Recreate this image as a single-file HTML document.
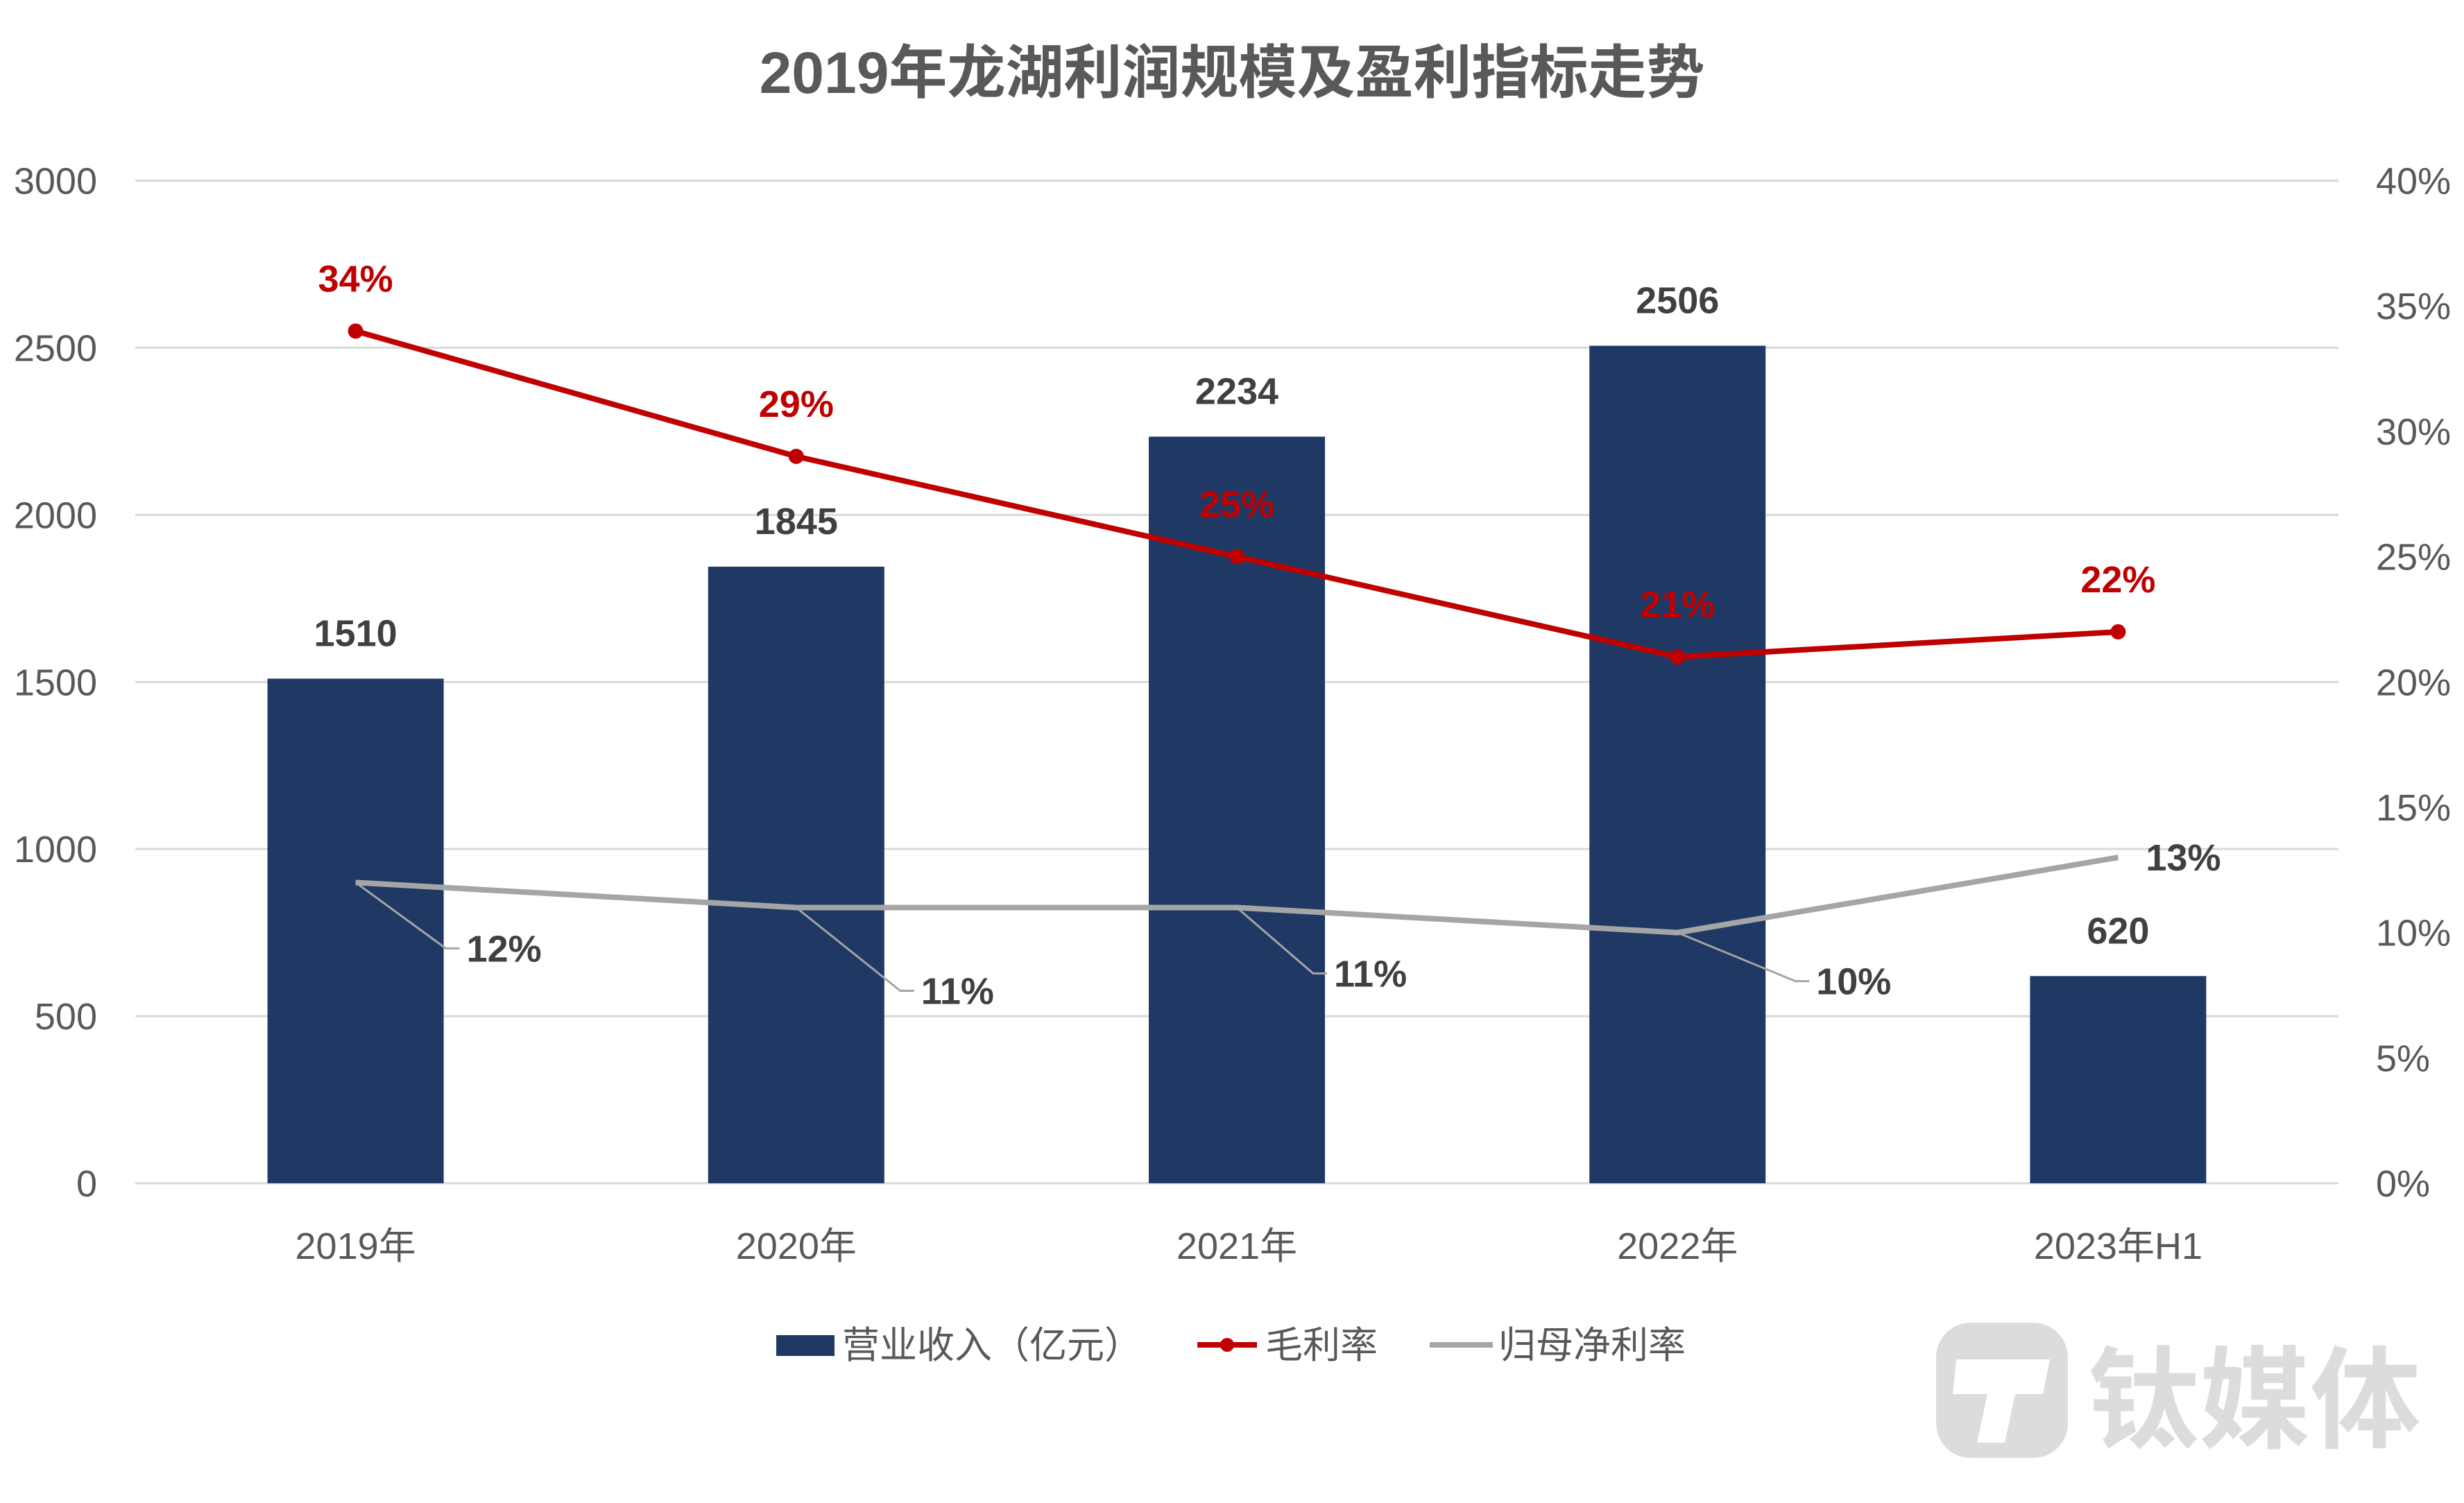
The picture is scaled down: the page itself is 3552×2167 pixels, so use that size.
<!DOCTYPE html>
<html><head><meta charset="utf-8">
<style>
html,body{margin:0;padding:0;background:#fff;}
svg{display:block;font-family:"Liberation Sans","Noto Sans CJK SC",sans-serif;}
</style></head>
<body>
<svg id="chart" width="3552" height="2167" viewBox="0 0 3552 2167" xmlns="http://www.w3.org/2000/svg">
<text x="1776" y="134" text-anchor="middle" font-size="84" font-weight="bold" fill="#595959">2019年龙湖利润规模及盈利指标走势</text>
<g id="grid"></g><g id="bars"></g><g id="lines"></g><g id="labels"></g>
<g>
<rect x="1119" y="1925" width="84" height="30" fill="#203864"/>
<text x="1214" y="1958" font-size="54" fill="#595959">营业收入（亿元）</text>
<line x1="1726" y1="1939" x2="1812" y2="1939" stroke="#C00000" stroke-width="8"/>
<circle cx="1769" cy="1939" r="10" fill="#C00000"/>
<text x="1824" y="1958" font-size="54" fill="#595959">毛利率</text>
<line x1="2061" y1="1939" x2="2152" y2="1939" stroke="#A5A5A5" stroke-width="8"/>
<text x="2160" y="1958" font-size="54" fill="#595959">归母净利率</text>
</g>
<g opacity="0.9">
<rect x="2791" y="1907" width="190" height="195" rx="50" fill="#D9D9D9"/>
<path d="M2820 1960 L2955 1960 L2945 2010 L2905 2010 L2890 2080 L2850 2080 L2865 2010 L2815 2010 Z" fill="#fff"/>
<text x="3010" y="2075" font-size="160" font-weight="bold" fill="#D9D9D9">钛媒体</text>
</g>
</svg>
<script>
const categories=["2019年","2020年","2021年","2022年","2023年H1"];
const revenue=[1510,1845,2234,2506,620];
const grossMargin=[34,29,25,21,22];
const netMargin=[12,11,11,10,13];
const leftTicks=[0,500,1000,1500,2000,2500,3000];
const rightTicks=[0,5,10,15,20,25,30,35,40];
const NS="http://www.w3.org/2000/svg";
const L=195,R=3371,T=260.5,B=1706;
const bw=(R-L)/categories.length;
const xc=i=>L+bw*(i+0.5);
const yL=v=>B-(v/3000)*(B-T);
const yR=v=>B-(v/40)*(B-T);
function mk(tag,attrs,parent,txt){const e=document.createElementNS(NS,tag);for(const k in attrs)e.setAttribute(k,attrs[k]);if(txt!==undefined)e.textContent=txt;parent.appendChild(e);return e;}
const grid=document.getElementById('grid'),bars=document.getElementById('bars'),lines=document.getElementById('lines'),labels=document.getElementById('labels');
leftTicks.forEach(v=>{
 const g=mk('line',{x1:L,x2:R,y1:yL(v),y2:yL(v),stroke:'#D9D9D9','stroke-width':3},grid);
 
 
 const t=mk('text',{x:140,y:yL(v)+19,'text-anchor':'end','font-size':54,fill:'#595959'},grid,v);
 
 
});
rightTicks.forEach(v=>{
 const t=mk('text',{x:3425,y:yR(v)+19,'font-size':54,fill:'#595959'},grid,v+'%');
 
 
});
categories.forEach((c,i)=>{
 const t=mk('text',{x:xc(i),y:1815,'text-anchor':'middle','font-size':54,fill:'#595959'},grid,c);
 
 
});
revenue.forEach((v,i)=>{
 const r=mk('rect',{x:xc(i)-127,y:yL(v),width:254,height:B-yL(v),fill:'#203864'},bars);
 
 
 const t=mk('text',{x:xc(i),y:yL(v)-47,'text-anchor':'middle','font-size':54,'font-weight':'bold',fill:'#404040'},labels,v);
 
 
});
const np=mk('polyline',{points:netMargin.map((v,i)=>xc(i)+','+yR(v)).join(' '),fill:'none',stroke:'#A5A5A5','stroke-width':8,'stroke-linejoin':'round'},lines);


const gp=mk('polyline',{points:grossMargin.map((v,i)=>xc(i)+','+yR(v)).join(' '),fill:'none',stroke:'#C00000','stroke-width':8,'stroke-linejoin':'round'},lines);


grossMargin.forEach((v,i)=>{
 const c=mk('circle',{cx:xc(i),cy:yR(v),r:11,fill:'#C00000'},lines);
 
 
 const t=mk('text',{x:xc(i),y:yR(v)-57,'text-anchor':'middle','font-size':54,'font-weight':'bold',fill:'#C00000'},labels,v+'%');
 
 
});
const offs=[[130,95],[150,120],[110,95],[170,70],null];
netMargin.forEach((v,i)=>{
 const x=xc(i),y=yR(v);
 let lx,ly;
 if(offs[i]){
  const [dx,dy]=offs[i];
  const l=mk('polyline',{points:`${x},${y} ${x+dx},${y+dy} ${x+dx+20},${y+dy}`,fill:'none',stroke:'#A5A5A5','stroke-width':3},labels);
  
  
  lx=x+dx+30;ly=y+dy+19;
 }else{lx=x+40;ly=y+19;}
 const t=mk('text',{x:lx,y:ly,'font-size':54,'font-weight':'bold',fill:'#404040'},labels,v+'%');
 
 
});
</script>
</body></html>
